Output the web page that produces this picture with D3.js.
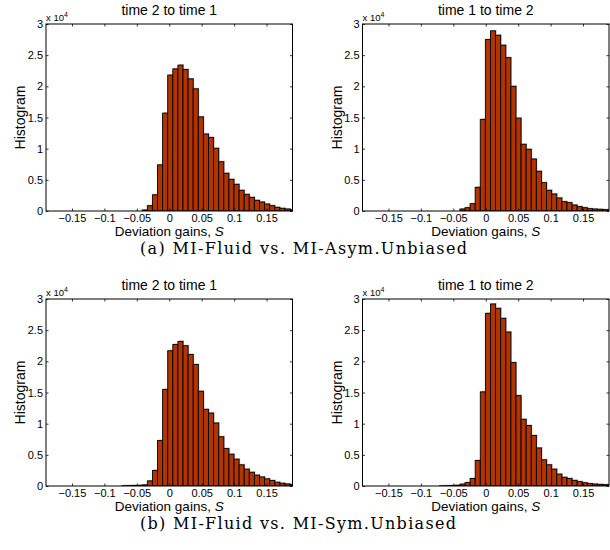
<!DOCTYPE html>
<html>
<head>
<meta charset="utf-8">
<script src="https://cdn.jsdelivr.net/npm/d3@7"></script>
<style>
  body { margin: 0; background: #fff; }
  svg { display: block; }
</style>
</head>
<body>
<svg id="fig" width="610" height="550"></svg>
<script>
// Histogram bin width (deviation gain units) shared by all panels
const binWidth = 0.00786;

// Axis ticks
const xTicks = [-0.15, -0.1, -0.05, 0, 0.05, 0.1, 0.15];
const xTickLabels = ["\u22120.15", "\u22120.1", "\u22120.05", "0", "0.05", "0.1", "0.15"];
const yTicks = [0, 5000, 10000, 15000, 20000, 25000, 30000];
const yTickLabels = ["0", "0.5", "1", "1.5", "2", "2.5", "3"];

// Panel titles and figure captions
const titles = ["time 2 to time 1", "time 1 to time 2", "time 2 to time 1", "time 1 to time 2"];
const captions = ["(a) MI-Fluid vs. MI-Asym.Unbiased", "(b) MI-Fluid vs. MI-Sym.Unbiased"];

// Left edge of the first bin of each panel
const firstEdges = [-0.0417, -0.0399, -0.0731, -0.0713];

// (a) MI-Fluid vs. MI-Asym.Unbiased, time 2 -> time 1
const countsAsym21 = [160, 850, 2600, 7400, 15700, 21800, 22800, 23400, 22700, 21200,
  19600, 15100, 12350, 11800, 10060, 7900, 6050, 5080, 4280, 3320,
  2670, 2190, 1710, 1440, 1120, 860, 590, 430, 320, 200];
// (a) time 1 -> time 2
const countsAsym12 = [320, 530, 1170, 3800, 14700, 27500, 28900, 28200, 26600, 24600,
  20000, 14900, 10700, 9900, 8340, 6370, 4550, 3320, 2730, 2090,
  1500, 1340, 960, 700, 530, 370, 320, 270, 210, 200];
// (b) MI-Fluid vs. MI-Sym.Unbiased, time 2 -> time 1
const countsSym21 = [40, 60, 90, 110, 180, 820, 2500, 7300, 15500, 21700,
  22700, 23200, 22500, 21100, 19500, 15200, 12300, 11700, 10100, 7900,
  6000, 5100, 4300, 3400, 2700, 2200, 1750, 1450, 1150, 880,
  600, 440, 330, 220];
// (b) time 1 -> time 2
const countsSym12 = [30, 50, 80, 120, 300, 550, 1200, 4100, 15100, 27700,
  29200, 28500, 26900, 24700, 19800, 14500, 10700, 9700, 8100, 6100,
  4200, 3400, 2700, 1900, 1400, 1200, 900, 700, 520, 380,
  320, 260, 210, 190];

const panelCounts = [countsAsym21, countsAsym12, countsSym21, countsSym12];

// ---- layout ----
const svg = d3.select("#fig");
const plotW = 246.5, plotH = 187;
const colLeft = [46, 362.5];
const rowTop = [24, 299];
const sansFont = "'Liberation Sans', Arial, Helvetica, sans-serif";
const serifFont = "'DejaVu Serif', 'Liberation Serif', serif";
const barFill = "#b23400";

const x = d3.scaleLinear().domain([-0.19, 0.19]).range([0, plotW]);
const y = d3.scaleLinear().domain([0, 30000]).range([plotH, 0]);

panelCounts.forEach((counts, i) => {
  const col = i % 2, row = Math.floor(i / 2);
  const g = svg.append("g").attr("transform", `translate(${colLeft[col]},${rowTop[row]})`);

  const clipId = `clip${i}`;
  g.append("clipPath").attr("id", clipId)
    .append("rect").attr("x", 0).attr("y", -3).attr("width", plotW).attr("height", plotH + 3);

  const bins = counts.map((c, k) => ({
    x0: firstEdges[i] + k * binWidth,
    x1: firstEdges[i] + (k + 1) * binWidth,
    count: c
  }));

  const barsG = g.append("g").attr("clip-path", `url(#${clipId})`);

  // soft grey offset behind the bars
  barsG.selectAll("rect.shade").data(bins).join("rect")
    .attr("class", "shade")
    .attr("x", d => x(d.x0) + 1)
    .attr("y", d => y(d.count) - 1)
    .attr("width", d => x(d.x1) - x(d.x0))
    .attr("height", d => plotH - y(d.count))
    .attr("fill", "#b8b8b8");

  barsG.selectAll("rect.bar").data(bins).join("rect")
    .attr("class", "bar")
    .attr("x", d => x(d.x0))
    .attr("y", d => y(d.count))
    .attr("width", d => x(d.x1) - x(d.x0))
    .attr("height", d => plotH - y(d.count))
    .attr("fill", barFill)
    .attr("stroke", "#000")
    .attr("stroke-width", 0.9);

  // box
  g.append("rect").attr("x", 0).attr("y", 0).attr("width", plotW).attr("height", plotH)
    .attr("fill", "none").attr("stroke", "#000").attr("stroke-width", 1);

  // inward ticks on all four sides
  const tickLen = 2.5;
  const xAxisB = d3.axisBottom(x).tickValues(xTicks).tickSizeInner(-tickLen).tickSizeOuter(0)
    .tickPadding(3).tickFormat((d, k) => xTickLabels[k]);
  const xAxisT = d3.axisTop(x).tickValues(xTicks).tickSizeInner(-tickLen).tickSizeOuter(0).tickFormat("");
  const yAxisL = d3.axisLeft(y).tickValues(yTicks).tickSizeInner(-tickLen).tickSizeOuter(0)
    .tickPadding(3).tickFormat((d, k) => yTickLabels[k]);
  const yAxisR = d3.axisRight(y).tickValues(yTicks).tickSizeInner(-tickLen).tickSizeOuter(0).tickFormat("");

  const axes = [
    g.append("g").attr("transform", `translate(0,${plotH})`).call(xAxisB),
    g.append("g").call(xAxisT),
    g.append("g").call(yAxisL),
    g.append("g").attr("transform", `translate(${plotW},0)`).call(yAxisR)
  ];
  axes.forEach(a => {
    a.select(".domain").remove();
    a.selectAll("line").attr("stroke", "#000").attr("stroke-width", 0.8);
    a.selectAll("text").attr("fill", "#000").style("font-family", sansFont).style("font-size", "11px");
  });

  // exponent marker
  const ex = g.append("text").attr("x", 0).attr("y", -3)
    .style("font-family", sansFont).style("font-size", "9.5px").attr("fill", "#000");
  ex.append("tspan").text("x 10");
  ex.append("tspan").attr("dy", -4).style("font-size", "7px").text("4");

  // title
  g.append("text").attr("x", plotW / 2).attr("y", -9).attr("text-anchor", "middle")
    .style("font-family", sansFont).style("font-size", "14px").text(titles[i]);

  // y label
  g.append("text").attr("transform", `translate(-21,${plotH / 2}) rotate(-90)`)
    .attr("text-anchor", "middle")
    .style("font-family", sansFont).style("font-size", "14px").text("Histogram");

  // x label
  const xl = g.append("text").attr("x", plotW / 2).attr("y", plotH + 25).attr("text-anchor", "middle")
    .style("font-family", sansFont).style("font-size", "13.5px");
  xl.append("tspan").text("Deviation gains, ");
  xl.append("tspan").style("font-style", "italic").text("S");
});

// figure captions
const captionWidths = [327, 316];
captions.forEach((c, r) => {
  svg.append("text").attr("x", 140).attr("y", rowTop[r] + plotH + 43)
    .attr("text-anchor", "start")
    .attr("textLength", captionWidths[r]).attr("lengthAdjust", "spacing")
    .style("font-family", serifFont)
    .style("font-size", "16px").attr("fill", "#000").text(c);
});
</script>
</body>
</html>
